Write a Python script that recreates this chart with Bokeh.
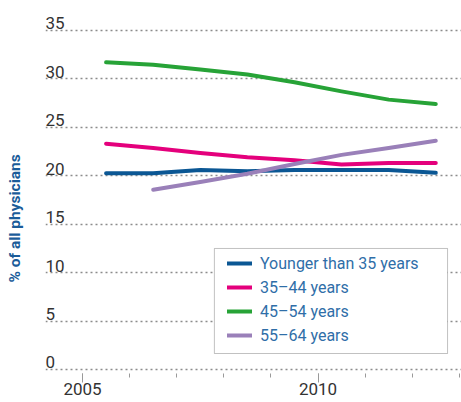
import math
from bokeh.plotting import figure
from bokeh.models import (Range1d, FixedTicker, Legend, LegendItem,
                          BoxAnnotation, Title)
from bokeh.embed import file_html
from bokeh.resources import INLINE
from bokeh.core.properties import value

# ---- data (points sit at mid-year) ----
years = [2005.5, 2006.5, 2007.5, 2008.5, 2009.5, 2010.5, 2011.5, 2012.5]
young = [20.25, 20.25, 20.6, 20.45, 20.6, 20.6, 20.6, 20.3]
age35_44 = [23.3, 22.85, 22.35, 21.9, 21.6, 21.15, 21.3, 21.3]
age45_54 = [31.7, 31.45, 30.95, 30.45, 29.65, 28.7, 27.85, 27.4]
years55 = [2006.5, 2007.5, 2008.5, 2009.5, 2010.5, 2011.5, 2012.5]
age55_64 = [18.55, 19.35, 20.2, 21.2, 22.15, 22.85, 23.6]

y_ticks = [0, 5, 10, 15, 20, 25, 30, 35]
x_major = [2005, 2010]
x_minor = [2005, 2006, 2007, 2008, 2009, 2010, 2011, 2012, 2013]
labels = ["Younger than 35 years", "35\u201344 years", "45\u201354 years", "55\u201364 years"]
colors = ["#0b5794", "#e4007c", "#27a337", "#9a80b9"]
y_title = "% of all physicians"

FONT = "Roboto"

X0, X1 = 2004.214, 2013.046
Y0, Y1 = -0.413, 38.08

p = figure(width=461, height=402, output_backend="svg", toolbar_location=None,
           x_range=Range1d(X0, X1), y_range=Range1d(Y0, Y1),
           min_border_left=45, min_border_right=0, min_border_top=0,
           min_border_bottom=29)
p.outline_line_color = None
p.background_fill_color = "white"
p.border_fill_color = "white"

# grid
p.xgrid.visible = False
p.ygrid.ticker = FixedTicker(ticks=y_ticks)
p.ygrid.grid_line_color = "#8c8c8c"
p.ygrid.grid_line_width = 1.5
p.ygrid.grid_line_dash = "2 3"

# y axis: kept only as a blank spacer between the frame and the title
ya = p.yaxis[0]
ya.ticker = FixedTicker(ticks=[0])
ya.major_label_overrides = {0: " "}
ya.axis_line_color = None
ya.major_tick_line_color = None
ya.minor_tick_line_color = None
ya.major_tick_in = 0
ya.major_tick_out = 0
ya.minor_tick_in = 0
ya.minor_tick_out = 0
ya.major_label_standoff = 14

xa = p.xaxis[0]
xa.ticker = FixedTicker(ticks=x_major, minor_ticks=x_minor)
xa.axis_line_color = None
xa.major_tick_in = 0
xa.major_tick_out = 9
xa.minor_tick_in = 0
xa.minor_tick_out = 4
xa.major_tick_line_color = "#9a9a9a"
xa.minor_tick_line_color = "#9a9a9a"
xa.major_label_text_font = FONT
xa.major_label_text_font_size = "17px"
xa.major_label_text_color = "#333333"
xa.major_label_standoff = 0

# y tick labels (above the grid lines, at left)
p.text(x=[X0] * len(y_ticks), y=y_ticks, text=[str(v) for v in y_ticks],
       text_font=value(FONT), text_font_size="17px", text_color="#333333",
       text_align="left", text_baseline="alphabetic", y_offset=-7)

# lines
r1 = p.line(years, young, line_color=colors[0], line_width=4, line_join="round", line_cap="round")
r2 = p.line(years, age35_44, line_color=colors[1], line_width=4, line_join="round", line_cap="round")
r3 = p.line(years, age45_54, line_color=colors[2], line_width=4, line_join="round", line_cap="round")
r4 = p.line(years55, age55_64, line_color=colors[3], line_width=4, line_join="round", line_cap="round")

# legend box
box = BoxAnnotation(left=2007.80, right=2012.75, bottom=1.65, top=12.49,
                    fill_color="white", fill_alpha=1.0,
                    line_color="#333333", line_width=1, level="annotation")
p.add_layout(box)

legend = Legend(items=[LegendItem(label=l, renderers=[r]) for l, r in zip(labels, [r1, r2, r3, r4])],
                location=(182, 28), padding=0, margin=0, spacing=4,
                label_height=20, glyph_height=20, glyph_width=25, label_standoff=8,
                border_line_color=None, background_fill_alpha=0,
                label_text_font=FONT, label_text_font_size="16px",
                label_text_color="#2f6ea8")
p.add_layout(legend, "center")

# y title
p.add_layout(Title(text=y_title, align="left", offset=91, standoff=4,
                   text_font=FONT, text_font_style="bold", text_font_size="15.5px",
                   text_color="#1b5c99"), "left")

open("out.html", "w").write(file_html(p, INLINE))
